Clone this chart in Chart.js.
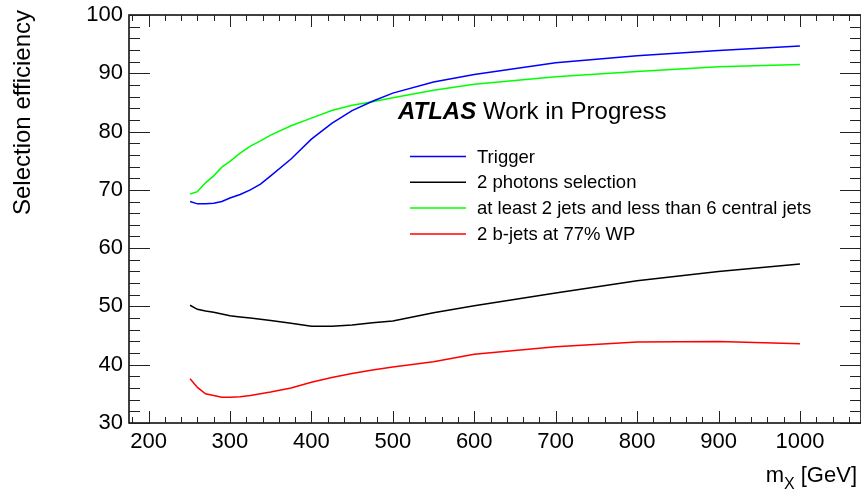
<!DOCTYPE html>
<html>
<head>
<meta charset="utf-8">
<script src="https://cdn.jsdelivr.net/npm/chart.js@4.4.1/dist/chart.umd.min.js"></script>
<style>
  html, body { margin: 0; padding: 0; background: #fff; }
  #wrap { width: 861px; height: 495px; position: relative; }
</style>
</head>
<body>
<div id="wrap"><canvas id="c" width="861" height="495"></canvas></div>
<script>
// ---- data ----
const masses = [251, 260, 270, 280, 290, 300, 312.5, 325, 337.5, 350, 375, 400, 425, 450, 475, 500, 550, 600, 700, 800, 900, 1000];
const trigger = [68.0, 67.6, 67.6, 67.7, 68.0, 68.6, 69.2, 70.0, 71.0, 72.4, 75.3, 78.7, 81.4, 83.6, 85.2, 86.6, 88.5, 89.8, 91.8, 93.0, 93.9, 94.7];
const photons = [50.2, 49.5, 49.2, 49.0, 48.7, 48.4, 48.2, 48.0, 47.8, 47.6, 47.1, 46.6, 46.6, 46.8, 47.2, 47.5, 48.9, 50.1, 52.3, 54.4, 56.0, 57.3];
const jets    = [69.3, 69.7, 71.2, 72.4, 73.9, 74.9, 76.3, 77.5, 78.4, 79.4, 81.0, 82.3, 83.6, 84.5, 85.1, 85.8, 87.1, 88.1, 89.4, 90.3, 91.1, 91.5];
const bjets   = [37.6, 36.1, 35.0, 34.7, 34.4, 34.4, 34.5, 34.7, 35.0, 35.3, 36.0, 37.0, 37.8, 38.5, 39.1, 39.6, 40.5, 41.8, 43.1, 43.9, 44.0, 43.6];
const seriesLabels = ["Trigger", "2 photons selection", "at least 2 jets and less than 6 central jets", "2 b-jets at 77% WP"];
const seriesColors = ["#0000ff", "#000000", "#00ff00", "#ff0000"];
const xTicks = [200, 300, 400, 500, 600, 700, 800, 900, 1000];
const yTicks = [30, 40, 50, 60, 70, 80, 90, 100];
const xTitle = "m";
const xTitleSub = "X";
const xTitleRest = " [GeV]";
const yTitle = "Selection efficiency";

const FONT = "'Liberation Sans', Arial, Helvetica, sans-serif";

function pts(vals) { return masses.map((m, i) => ({ x: m, y: vals[i] })); }
const seriesValues = [trigger, photons, jets, bjets];

const datasets = seriesValues.map((v, i) => ({
  label: seriesLabels[i],
  data: pts(v),
  borderColor: seriesColors[i],
  backgroundColor: seriesColors[i],
  borderWidth: 1.5,
  pointRadius: 0,
  tension: 0,
  fill: false
}));

const framePlugin = {
  id: 'rootFrame',
  afterDraw(chart) {
    const ctx = chart.ctx;
    const a = chart.chartArea;
    const xs = chart.scales.x, ys = chart.scales.y;
    ctx.save();
    // frame
    ctx.strokeStyle = '#000';
    ctx.lineWidth = 1.5;
    ctx.beginPath();
    ctx.moveTo(a.left, a.top); ctx.lineTo(a.right, a.top);
    ctx.lineTo(a.right, a.bottom); ctx.lineTo(a.left, a.bottom);
    ctx.closePath();
    ctx.stroke();
    // ticks
    ctx.strokeStyle = '#222';
    ctx.lineWidth = 1;
    ctx.beginPath();
    for (let v = 180; v <= 1075; v += 20) {
      const px = Math.round(xs.getPixelForValue(v)) + 0.5;
      const major = v % 100 === 0;
      const L = major ? 12 : 6;
      ctx.moveTo(px, a.bottom); ctx.lineTo(px, a.bottom - L);
      ctx.moveTo(px, a.top); ctx.lineTo(px, a.top + L);
    }
    for (let v = 30; v <= 100; v += 2) {
      const py = Math.round(ys.getPixelForValue(v)) + 0.5;
      const major = v % 10 === 0;
      const L = major ? 21 : 11;
      ctx.moveTo(a.left, py); ctx.lineTo(a.left + L, py);
      ctx.moveTo(a.right, py); ctx.lineTo(a.right - L, py);
    }
    ctx.stroke();

    // ATLAS label
    ctx.fillStyle = '#000';
    ctx.textBaseline = 'alphabetic';
    ctx.textAlign = 'left';
    ctx.font = "italic bold 24px " + FONT;
    ctx.fillText("ATLAS", 398, 118.5);
    ctx.font = "24px " + FONT;
    ctx.fillText("Work in Progress", 483, 118.5);

    // legend
    ctx.font = "18.5px " + FONT;
    ctx.textBaseline = 'middle';
    chart.data.datasets.forEach((ds, i) => {
      const y = 156.5 + i * 25.8;
      ctx.strokeStyle = ds.borderColor;
      ctx.lineWidth = 1.5;
      ctx.beginPath();
      ctx.moveTo(410, y); ctx.lineTo(466, y);
      ctx.stroke();
      ctx.fillStyle = '#000';
      ctx.fillText(ds.label, 477, y + 1);
    });

    // x title
    ctx.textBaseline = 'alphabetic';
    ctx.textAlign = 'right';
    ctx.font = "22px " + FONT;
    const wRest = ctx.measureText(xTitleRest).width;
    const xEnd = 857;
    ctx.fillText(xTitleRest, xEnd, 482);
    ctx.font = "16px " + FONT;
    const wSub = ctx.measureText(xTitleSub).width;
    ctx.fillText(xTitleSub, xEnd - wRest, 489);
    ctx.font = "22px " + FONT;
    ctx.fillText(xTitle, xEnd - wRest - wSub, 482);

    // y title
    ctx.save();
    ctx.translate(30, 10);
    ctx.rotate(-Math.PI / 2);
    ctx.textAlign = 'right';
    ctx.textBaseline = 'alphabetic';
    ctx.font = "24px " + FONT;
    ctx.fillText(yTitle, 0, 0);
    ctx.restore();

    ctx.restore();
  }
};

function noPad(s) { s.paddingTop = 0; s.paddingBottom = 0; s.paddingLeft = 0; s.paddingRight = 0; }

new Chart(document.getElementById('c'), {
  type: 'line',
  data: { datasets },
  options: {
    responsive: false,
    animation: false,
    devicePixelRatio: 1,
    layout: { padding: { left: 0, right: 0, top: 15, bottom: 0 } },
    plugins: { legend: { display: false }, tooltip: { enabled: false }, title: { display: false } },
    scales: {
      x: {
        type: 'linear',
        min: 176, max: 1075,
        afterFit(s) { s.height = 72; noPad(s); },
        afterBuildTicks(s) { s.ticks = xTicks.map(v => ({ value: v })); },
        grid: { display: false, drawTicks: false },
        border: { display: false },
        ticks: { color: '#000', padding: 6, maxRotation: 0, autoSkip: false, font: { family: FONT, size: 22 },
                 callback: v => String(v) }
      },
      y: {
        type: 'linear',
        min: 30, max: 100,
        afterFit(s) { s.width = 129; noPad(s); },
        afterBuildTicks(s) { s.ticks = yTicks.map(v => ({ value: v })); },
        grid: { display: false, drawTicks: false },
        border: { display: false },
        ticks: { color: '#000', padding: 6, autoSkip: false, font: { family: FONT, size: 22 },
                 callback: v => String(v) }
      }
    }
  },
  plugins: [framePlugin]
});
</script>
</body>
</html>
